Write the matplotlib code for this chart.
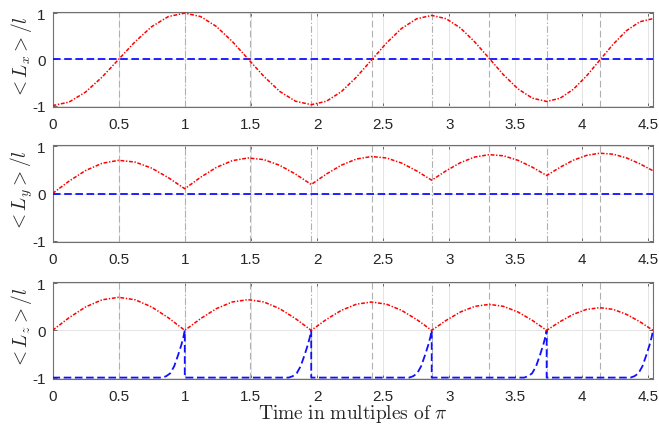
import matplotlib
matplotlib.use('Agg')
import matplotlib.pyplot as plt

plt.rcParams['font.family'] = ['Liberation Sans', 'DejaVu Sans']
plt.rcParams['mathtext.fontset'] = 'cm'

# ---------------- data (time in multiples of pi) ----------------
t = [0, 0.125, 0.25, 0.375, 0.5, 0.625, 0.75, 0.875, 1.0,
     1.12, 1.239, 1.359, 1.478, 1.598, 1.717, 1.837, 1.956,
     2.07, 2.184, 2.298, 2.412, 2.525, 2.639, 2.753, 2.867,
     2.976, 3.084, 3.193, 3.302, 3.41, 3.519, 3.628, 3.736,
     3.837, 3.937, 4.038, 4.138, 4.239, 4.339, 4.44, 4.54]

lx_red = [-1, -0.924, -0.707, -0.383, 0, 0.383, 0.707, 0.924, 1.0,
          0.925, 0.711, 0.388, 0.01, -0.368, -0.691, -0.905, -0.98,
          -0.907, -0.698, -0.383, -0.015, 0.353, 0.668, 0.877, 0.95,
          0.879, 0.678, 0.375, 0.02, -0.335, -0.638, -0.839, -0.91,
          -0.842, -0.649, -0.357, -0.015, 0.327, 0.619, 0.812, 0.88]

ly_red = [0, 0.261, 0.485, 0.638, 0.70, 0.663, 0.535, 0.336, 0.1,
          0.343, 0.551, 0.693, 0.75, 0.715, 0.596, 0.411, 0.19,
          0.41, 0.598, 0.728, 0.78, 0.75, 0.643, 0.478, 0.28,
          0.48, 0.651, 0.77, 0.82, 0.796, 0.701, 0.555, 0.38,
          0.553, 0.702, 0.805, 0.85, 0.83, 0.752, 0.628, 0.48]

lz_red = [0, 0.268, 0.495, 0.647, 0.70, 0.647, 0.495, 0.268, 0,
          0.249, 0.46, 0.601, 0.65, 0.601, 0.46, 0.249, 0,
          0.23, 0.424, 0.554, 0.60, 0.554, 0.424, 0.23, 0,
          0.211, 0.389, 0.508, 0.55, 0.508, 0.389, 0.211, 0,
          0.184, 0.339, 0.444, 0.48, 0.444, 0.339, 0.184, 0]

flat_t = [0, 4.54]
lx_blue = [0, 0]
ly_blue = [0, 0]

lz_blue_t = [0,
             0.83, 0.86, 0.89, 0.92, 0.95, 0.975, 0.99, 1.0, 1.0,
             1.786, 1.816, 1.846, 1.876, 1.906, 1.931, 1.946, 1.956, 1.956,
             2.697, 2.727, 2.757, 2.787, 2.817, 2.842, 2.857, 2.867, 2.867,
             3.566, 3.596, 3.626, 3.656, 3.686, 3.711, 3.726, 3.736, 3.736,
             4.37, 4.40, 4.43, 4.46, 4.49, 4.515, 4.53, 4.54]
lz_blue = [-1,
           -1, -0.97, -0.91, -0.76, -0.52, -0.30, -0.14, 0, -1,
           -1, -0.97, -0.91, -0.76, -0.52, -0.30, -0.14, 0, -1,
           -1, -0.97, -0.91, -0.76, -0.52, -0.30, -0.14, 0, -1,
           -1, -0.97, -0.91, -0.76, -0.52, -0.30, -0.14, 0, -1,
           -1, -0.97, -0.91, -0.76, -0.52, -0.30, -0.14, 0]

mid_times = [0.5, 1.49, 2.415, 3.30, 4.14]
end_times = [1.0, 1.956, 2.867, 3.736, 4.54]

xticks = [0, 0.5, 1, 1.5, 2, 2.5, 3, 3.5, 4, 4.5]
xticklabels = ['0', '0.5', '1', '1.5', '2', '2.5', '3', '3.5', '4', '4.5']
yticks = [-1, 0, 1]
yticklabels = ['-1', '0', '1']

ylabels = [r'$<L_x>/l$', r'$<L_y>/l$', r'$<L_z>/l$']
xlabel = r'$\mathrm{Time\ in\ multiples\ of}\ \pi$'

# ---------------- figure ----------------
W, H = 659, 427
fig = plt.figure(figsize=(W / 100, H / 100), dpi=100)
left_px, right_px = 52.5, 653
panels_px = [(12.7, 108), (145.7, 243.3), (282.7, 380)]

red_series = [lx_red, ly_red, lz_red]
blue_series = [(flat_t, lx_blue), (flat_t, ly_blue), (lz_blue_t, lz_blue)]

for i, (top, bot) in enumerate(panels_px):
    ax = fig.add_axes([left_px / W, 1 - bot / H, (right_px - left_px) / W, (bot - top) / H])
    ax.set_xlim(0, 4.54)
    ax.set_ylim(-1.03, 1.03)
    ax.set_axisbelow(True)
    ax.grid(True, color='#e4e4e4', lw=0.7)
    for m in mid_times:
        ax.axvline(m, color='#b0b0b0', lw=0.8, ls=(0, (6, 3)), zorder=1)
    for e in end_times:
        ax.axvline(e, color='#b0b0b0', lw=0.8, ls=(0, (6, 2, 1.2, 2)), zorder=1)
    bt, bv = blue_series[i]
    ax.plot(bt, bv, color='#1010ff', lw=1.3, ls=(0, (4.2, 2.0)), zorder=3)
    ax.plot(t, red_series[i], color='#ff0000', lw=1.1, ls=(0, (2.5, 1.1, 0.9, 1.1)), zorder=4)
    ax.set_xticks(xticks)
    ax.set_xticklabels(xticklabels)
    ax.set_yticks(yticks)
    ax.set_yticklabels(yticklabels)
    ax.tick_params(direction='in', length=3, width=0.6, color='#555555',
                   top=True, right=True, labelsize=11, labelcolor='#262626')
    ax.tick_params(axis='x', pad=7)
    ax.tick_params(axis='y', pad=5)
    for sp in ax.spines.values():
        sp.set_color('#707070')
        sp.set_linewidth(0.8)
    fig.text(22 / W, 1 - ((top + bot) / 2 - 3) / H, ylabels[i], rotation=90,
             ha='center', va='center', fontsize=14, color='#262626')

fig.text(352.5 / W, 1 - 419 / H, xlabel, ha='center', va='baseline',
         fontsize=14, color='#262626')

fig.savefig('out.png', dpi=100)
